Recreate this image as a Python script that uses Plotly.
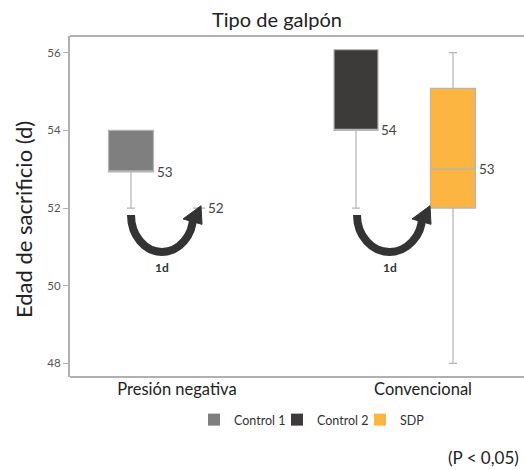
import plotly.graph_objects as go

# ---- data ----
groups = ["Presión negativa", "Convencional"]
group_tick_pos = [107, 353]

series_names = ["Control 1", "Control 2", "SDP"]
series_colors = ["#7f7f7f", "#3d3b39", "#fbb540"]

# boxes
box_series = ["Control 1", "SDP", "Control 2", "SDP"]
box_pos = [61, 129, 286, 383]
box_lower = [52, 52, 52, 48]
box_q1 = [52.93, 52, 54, 52]
box_median = [52.93, 52, 54, 53]
box_q3 = [54, 52, 56.08, 55.08]
box_upper = [54, 52, 56.08, 56]
box_label = ["53", "52", "54", "53"]
box_width = [45, 12, 44, 45]

# arrows between groups (start x, end x)
arrow_start = [61, 287]
arrow_end = [129, 358]
arrow_text = ["1d", "1d"]

y_title = "Edad de sacrificio (d)"

W, H = 540, 470
L, T, B = 70, 36, 93
PW = W - L
PH = H - T - B
AXIS_GRAY = "#b0b0b0"

fig = go.Figure()

color_map = dict(zip(series_names, series_colors))
for s, x, lo, q1, md, q3, up, w in zip(box_series, box_pos, box_lower, box_q1,
                                        box_median, box_q3, box_upper, box_width):
    is_line = (q1 == q3)
    fig.add_trace(go.Box(
        x=[x], q1=[q1], median=[md], q3=[q3], lowerfence=[lo], upperfence=[up],
        width=w, whiskerwidth=0.18,
        fillcolor=color_map[s] if not is_line else "rgba(0,0,0,0)",
        line=dict(color="#b5b5b5", width=1.2),
        showlegend=False, hoverinfo="skip",
    ))

for x, md, w, lab in zip(box_pos, box_median, box_width, box_label):
    fig.add_annotation(x=x + w / 2 + 1, y=md, text=lab, showarrow=False,
                       xanchor="left", yanchor="middle",
                       font=dict(family="Lato", size=13.5, color="#444"))

for s, c in zip(series_names, series_colors):
    fig.add_trace(go.Scatter(x=[None], y=[None], mode="markers", name=s,
                             marker=dict(symbol="square", size=12, color=c)))

# curved arrows
k = 0.5523
y_top = 51.82
y_bot = 50.87
for xs, xe, t in zip(arrow_start, arrow_end, arrow_text):
    xc = (xs + xe) / 2 - 3
    rx = xc - xs
    ry = y_top - y_bot
    xr = xc + rx
    path = (f"M {xs},{y_top} "
            f"C {xs},{y_top - k*ry} {xc - k*rx},{y_bot} {xc},{y_bot} "
            f"C {xc + k*rx},{y_bot} {xr},{y_top - k*ry} {xr},{y_top - 0.05}")
    fig.add_shape(type="path", path=path, xref="x", yref="y",
                  line=dict(color="#333333", width=8))
    head = (f"M {xr - 10},{y_top - 0.1} L {xr + 9},{y_top - 0.24} "
            f"L {xe + 2},{y_top + 0.24} Z")
    fig.add_shape(type="path", path=head, xref="x", yref="y",
                  fillcolor="#333333", line=dict(color="#333333", width=1))
    fig.add_annotation(x=xc, y=50.47, text=f"<b>{t}</b>", showarrow=False,
                       font=dict(family="Lato", size=12, color="#333"))

# top and bottom frame lines
for yy in (0, 1):
    fig.add_shape(type="line", xref="paper", yref="paper", x0=0, x1=1.2,
                  y0=yy, y1=yy, line=dict(color=AXIS_GRAY, width=2))

# y-axis title (placed as rotated text to match the reference position)
fig.add_annotation(x=(23 - L) / PW, xref="paper", xanchor="center",
                   y=(377 - 220) / PH, yref="paper", yanchor="middle",
                   text=y_title, textangle=-90, showarrow=False,
                   font=dict(family="Lato", size=22, color="#222"))

fig.add_annotation(x=(521 - L) / PW, xref="paper", xanchor="right",
                   y=(377 - 457) / PH, yref="paper", yanchor="middle",
                   text="(P < 0,05)", showarrow=False,
                   font=dict(family="Lato", size=17, color="#222"))

fig.update_layout(
    template="none",
    width=W, height=H,
    margin=dict(l=L, r=0, t=T, b=B),
    paper_bgcolor="white", plot_bgcolor="white",
    boxmode="overlay",
    title=dict(text="Tipo de galpón", x=277 / W, xanchor="center",
               y=1 - 20 / H, yanchor="middle",
               font=dict(family="Lato", size=20, color="#222")),
    font=dict(family="Lato", color="#333"),
    xaxis=dict(range=[0, PW], showline=False, showgrid=False, zeroline=False,
               ticks="", tickvals=group_tick_pos, ticktext=groups,
               tickfont=dict(family="Lato", size=16.5, color="#222")),
    yaxis=dict(range=[47.65, 56.43], showline=True, linecolor=AXIS_GRAY, linewidth=2,
               showgrid=False, zeroline=False, ticks="outside", ticklen=5,
               tickcolor=AXIS_GRAY, tickvals=[48, 50, 52, 54, 56],
               tickfont=dict(family="Lato", size=11.5, color="#555")),
    legend=dict(orientation="h", x=(194 - L) / PW, xanchor="left",
                y=(377 - 420) / PH, yanchor="middle",
                font=dict(family="Lato", size=12.5, color="#333"),
                itemwidth=30, entrywidth=38, tracegroupgap=0),
)

fig.write_html(
    "out.html",
    config={"displayModeBar": False},
    post_script=("document.body.style.margin='0';"
                 "document.body.style.overflow='hidden';"
                 "document.documentElement.style.overflow='hidden';"),
)
